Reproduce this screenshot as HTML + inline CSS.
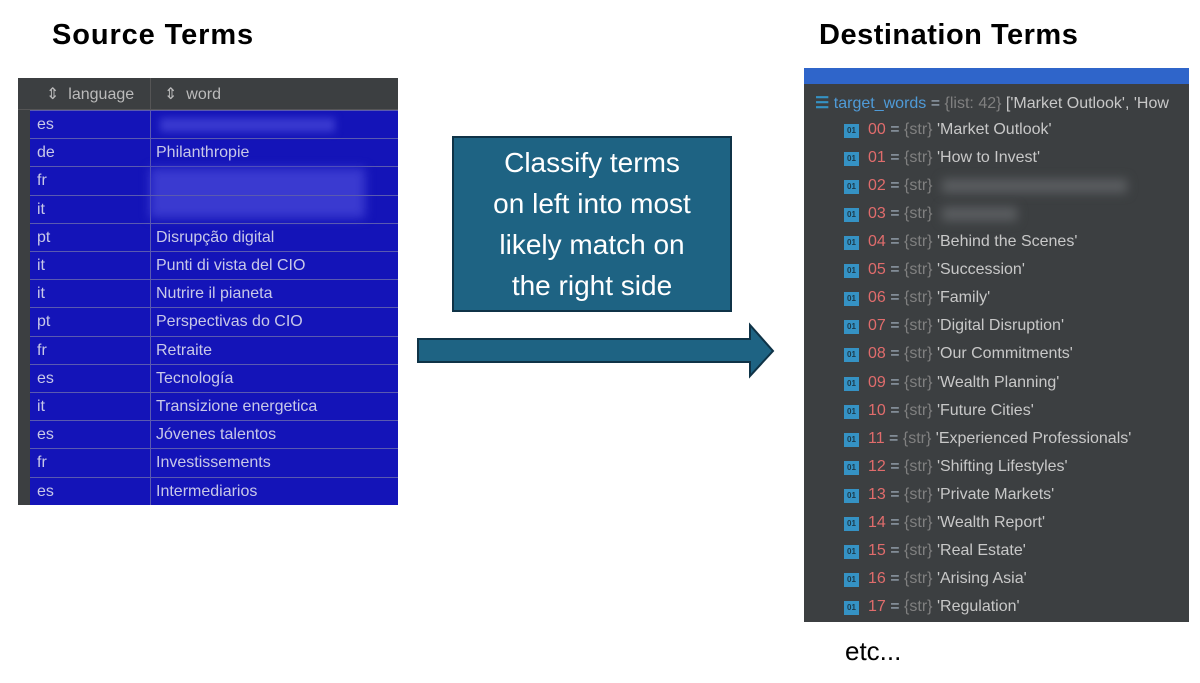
<!DOCTYPE html>
<html><head><meta charset="utf-8"><style>
*{margin:0;padding:0;box-sizing:border-box}
body{width:1200px;height:683px;background:#fff;position:relative;overflow:hidden;font-family:"Liberation Sans",sans-serif}
.abs{position:absolute}
.t{font-weight:bold;font-size:29px;color:#000;white-space:nowrap}
.tbl{left:18px;top:78px;width:380px;height:427px;background:#1414b8}
.gut{left:18px;top:78px;width:12px;height:427px;background:#3c3f41}
.hdr{left:18px;top:78px;width:380px;height:32px;background:#3c3f41;border-bottom:1px solid #555}
.hd{color:#bbb;font-size:16px;top:84px}
.row{left:30px;width:368px;height:28.2px;border-top:1px solid #5a5ab0}
.cell{color:#c8c8e8;font-size:16px;white-space:nowrap}
.vline{left:150px;top:78px;width:1px;height:427px;background:#5a5ab0}
.blur{background:#3a3ad0;filter:blur(4px);height:14px}
.panel{left:804px;top:68px;width:385px;height:554px;background:#3c3f41}
.item{left:844px;font-size:16px;white-space:nowrap;color:#a9b7c6}
.ic{display:inline-block;width:15px;height:14px;background:#3592c4;color:#1c3a4a;font-size:8px;font-weight:bold;text-align:center;line-height:14px;vertical-align:1px;margin-right:9px}
.n{color:#e06c6c}.g{color:#808080}.w{color:#c8c8c8}
</style></head><body>
<div class="abs t" style="left:52px;top:19px;letter-spacing:0.9px">Source Terms</div>
<div class="abs t" style="left:819px;top:19px;letter-spacing:0.5px">Destination Terms</div>

<div class="abs tbl"></div>
<div class="abs gut"></div>
<div class="abs hdr"></div>
<div class="abs hd" style="left:46px">⇕ &nbsp;language</div>
<div class="abs hd" style="left:164px">⇕ &nbsp;word</div>
<div class="abs vline"></div>
<div class="abs" style="left:150px;top:78px;width:1px;height:32px;background:#555"></div>

<div class="abs row" style="top:110px"></div>
<div class="abs cell" style="left:37px;top:116px">es</div>
<div class="abs blur" style="left:160px;top:118px;width:175px"></div>
<div class="abs row" style="top:138px"></div>
<div class="abs cell" style="left:37px;top:144px">de</div><div class="abs cell" style="left:156px;top:144px">Philanthropie</div>
<div class="abs row" style="top:166px"></div>
<div class="abs cell" style="left:37px;top:172px">fr</div>
<div class="abs blur" style="left:150px;top:168px;width:215px;height:50px;filter:blur(5px)"></div>
<div class="abs row" style="top:195px"></div>
<div class="abs cell" style="left:37px;top:201px">it</div>
<div class="abs row" style="top:223px"></div>
<div class="abs cell" style="left:37px;top:229px">pt</div><div class="abs cell" style="left:156px;top:229px">Disrupção digital</div>
<div class="abs row" style="top:251px"></div>
<div class="abs cell" style="left:37px;top:257px">it</div><div class="abs cell" style="left:156px;top:257px">Punti di vista del CIO</div>
<div class="abs row" style="top:279px"></div>
<div class="abs cell" style="left:37px;top:285px">it</div><div class="abs cell" style="left:156px;top:285px">Nutrire il pianeta</div>
<div class="abs row" style="top:307px"></div>
<div class="abs cell" style="left:37px;top:313px">pt</div><div class="abs cell" style="left:156px;top:313px">Perspectivas do CIO</div>
<div class="abs row" style="top:336px"></div>
<div class="abs cell" style="left:37px;top:342px">fr</div><div class="abs cell" style="left:156px;top:342px">Retraite</div>
<div class="abs row" style="top:364px"></div>
<div class="abs cell" style="left:37px;top:370px">es</div><div class="abs cell" style="left:156px;top:370px">Tecnología</div>
<div class="abs row" style="top:392px"></div>
<div class="abs cell" style="left:37px;top:398px">it</div><div class="abs cell" style="left:156px;top:398px">Transizione energetica</div>
<div class="abs row" style="top:420px"></div>
<div class="abs cell" style="left:37px;top:426px">es</div><div class="abs cell" style="left:156px;top:426px">Jóvenes talentos</div>
<div class="abs row" style="top:448px"></div>
<div class="abs cell" style="left:37px;top:454px">fr</div><div class="abs cell" style="left:156px;top:454px">Investissements</div>
<div class="abs row" style="top:477px"></div>
<div class="abs cell" style="left:37px;top:483px">es</div><div class="abs cell" style="left:156px;top:483px">Intermediarios</div>

<div class="abs" style="left:452px;top:136px;width:280px;height:176px;background:#1e6383;border:2px solid #0f3347;color:#fff;font-size:28px;line-height:41px;text-align:center;padding-top:4px">Classify terms<br>on left into most<br>likely match on<br>the right side</div>
<svg class="abs" style="left:0;top:0" width="1200" height="683"><polygon points="418,339 750,339 750,325 773,351 750,376 750,362 418,362" fill="#1e6383" stroke="#0f3347" stroke-width="2"/></svg>

<div class="abs panel"></div>
<div class="abs" style="left:804px;top:68px;width:385px;height:16px;background:#2f65ca"></div>
<div class="abs" style="left:815px;top:93px;font-size:16px;color:#a9b7c6;white-space:nowrap"><span style="color:#3592c4;font-weight:bold">☰</span> <span style="color:#4f9bd8">target_words</span> = <span class="g">{list: 42}</span> <span class="w">['Market Outlook', 'How</span></div>
<div id="items"></div>
<div class="abs" style="left:845px;top:636px;font-size:26px;color:#000">etc...</div>
<script>
var names=["'Market Outlook'","'How to Invest'","","","'Behind the Scenes'","'Succession'","'Family'","'Digital Disruption'","'Our Commitments'","'Wealth Planning'","'Future Cities'","'Experienced Professionals'","'Shifting Lifestyles'","'Private Markets'","'Wealth Report'","'Real Estate'","'Arising Asia'","'Regulation'"];
var h="";
for(var i=0;i<18;i++){var y=121+i*28.06;var n=(i<10?"0":"")+i;
h+='<div class="abs item" style="top:'+y+'px"><span class="ic">01</span><span class="n">'+n+'</span> = <span class="g">{str}</span> <span class="w">'+names[i]+'</span></div>';}
h+='<div class="abs" style="left:942px;top:179px;width:185px;height:14px;background:#5a5d60;filter:blur(5px)"></div>';
h+='<div class="abs" style="left:942px;top:207px;width:75px;height:14px;background:#5a5d60;filter:blur(5px)"></div>';
document.getElementById("items").outerHTML=h;
</script>
</body></html>
